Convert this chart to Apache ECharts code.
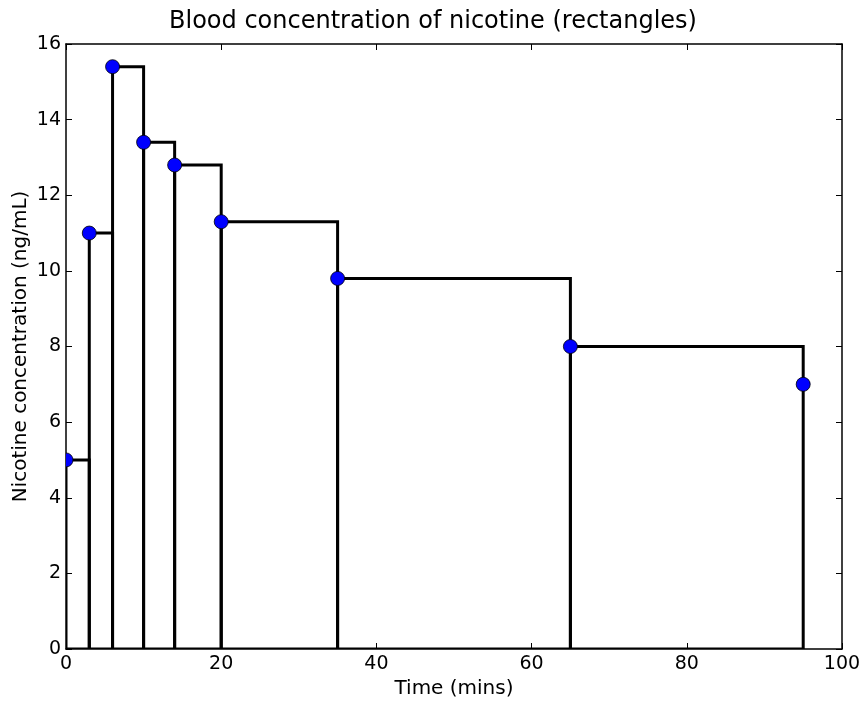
<!DOCTYPE html>
<html><head><meta charset="utf-8">
<script src="https://cdn.jsdelivr.net/npm/echarts@6/dist/echarts.min.js"></script>
<style>html,body{margin:0;padding:0;background:#fff}#c{width:866px;height:702px}</style>
</head><body><div id="c"></div>
<script>
const times = [0, 3, 6, 10, 14, 20, 35, 65, 95];
const concentrations = [5, 11, 15.4, 13.4, 12.8, 11.3, 9.8, 8, 7];
const xTicks = [0, 20, 40, 60, 80, 100];
const yTicks = [0, 2, 4, 6, 8, 10, 12, 14, 16];

const rects = [];
for (let i = 0; i < times.length - 1; i++) rects.push([times[i], concentrations[i], times[i + 1]]);
const pts = times.map((t, i) => [t, concentrations[i]]);

const font = 'DejaVu Sans';
const chart = echarts.init(document.getElementById('c'), null, {renderer: 'canvas'});
function tick() { return {show: true, inside: true, length: 6, lineStyle: {color: '#000', width: 1}}; }
function line() { return {show: true, onZero: false, lineStyle: {color: '#000', width: 1.5}}; }
const xMin = xTicks[0], xMax = xTicks[xTicks.length - 1], xStep = xTicks[1] - xTicks[0];
const yMin = yTicks[0], yMax = yTicks[yTicks.length - 1], yStep = yTicks[1] - yTicks[0];
chart.setOption({
  animation: false,
  backgroundColor: '#fff',
  title: {text: 'Blood concentration of nicotine (rectangles)', left: 'center', top: 5,
    textStyle: {fontFamily: font, fontSize: 24, fontWeight: 'normal', color: '#000'}},
  grid: {left: 66, right: 24, top: 44, bottom: 53, containLabel: false, outerBoundsMode: 'none'},
  xAxis: [
    {type: 'value', min: xMin, max: xMax, interval: xStep, position: 'bottom',
     name: 'Time (mins)', nameLocation: 'middle', nameGap: 30, nameMoveOverlap: false,
     nameTextStyle: {fontFamily: font, fontSize: 20, color: '#000'},
     axisLine: line(), axisTick: tick(), splitLine: {show: false},
     axisLabel: {fontFamily: font, fontSize: 19, color: '#000', margin: 6}},
    {type: 'value', min: xMin, max: xMax, interval: xStep, position: 'top',
     axisLine: line(), axisTick: tick(), splitLine: {show: false}, axisLabel: {show: false}}
  ],
  yAxis: [
    {type: 'value', min: yMin, max: yMax, interval: yStep, position: 'left',
     name: 'Nicotine concentration (ng/mL)', nameLocation: 'middle', nameGap: 35, nameRotate: 90,
     nameMoveOverlap: false,
     nameTextStyle: {fontFamily: font, fontSize: 20, color: '#000'},
     axisLine: line(), axisTick: tick(), splitLine: {show: false},
     axisLabel: {fontFamily: font, fontSize: 19, color: '#000', margin: 5}},
    {type: 'value', min: yMin, max: yMax, interval: yStep, position: 'right',
     axisLine: line(), axisTick: tick(), splitLine: {show: false}, axisLabel: {show: false}}
  ],
  series: [
    {type: 'custom', xAxisIndex: 0, yAxisIndex: 0, clip: true, data: rects, z: 2,
     renderItem: function (params, api) {
       const p1 = api.coord([api.value(0), api.value(1)]);
       const p2 = api.coord([api.value(2), 0]);
       return {type: 'rect', shape: {x: p1[0], y: p1[1], width: p2[0] - p1[0], height: p2[1] - p1[1]},
         style: {fill: 'none', stroke: '#000', lineWidth: 3}};
     }},
    {type: 'custom', xAxisIndex: 0, yAxisIndex: 0, clip: true, data: pts, z: 3,
     renderItem: function (params, api) {
       const p = api.coord([api.value(0), api.value(1)]);
       return {type: 'circle', shape: {cx: p[0], cy: p[1], r: 7},
         style: {fill: '#0000ff', stroke: '#000', lineWidth: 0.8}};
     }},
    {type: 'line', xAxisIndex: 1, yAxisIndex: 1, data: [], silent: true}
  ]
});
</script></body></html>
